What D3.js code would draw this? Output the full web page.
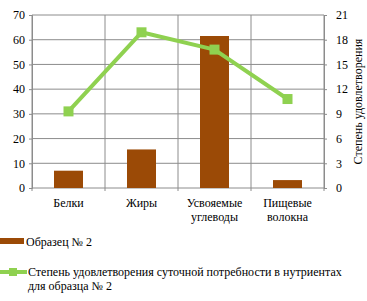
<!DOCTYPE html>
<html>
<head>
<meta charset="utf-8">
<script src="https://cdn.jsdelivr.net/npm/d3@7"></script>
<style>
  body { margin: 0; background: #fff; }
</style>
</head>
<body>
<svg id="chart" width="367" height="301"></svg>
<script>
// Data
var categories = ["Белки", "Жиры", "Усвояемые|углеводы", "Пищевые|волокна"]
var sampleValues = [7.0, 15.6, 61.5, 3.2]
var satisfaction = [9.3, 18.9, 16.8, 10.8]
var leftTicks = [0, 10, 20, 30, 40, 50, 60, 70]
var rightTicks = [0, 3, 6, 9, 12, 15, 18, 21]
var barName = "Образец № 2"
var lineName = ["Степень удовлетворения суточной потребности в нутриентах", "для образца № 2"]
var rightTitle = "Степень удовлетворения"

const barColor = "#9b4a06"
const lineColor = "#8fd150"
const gridColor = "#8c8c8c"
const serif = "Liberation Serif"

const margin = { top: 15, left: 32, right: 43, bottom: 113 }
const width = 367 - margin.left - margin.right
const height = 301 - margin.top - margin.bottom

const svg = d3.select("#chart")
const g = svg.append("g").attr("transform", `translate(${margin.left},${margin.top})`)

// Scales
const x = d3.scaleBand().domain(categories).range([0, width])
const yL = d3.scaleLinear().domain([0, 70]).range([height, 0])
const yR = d3.scaleLinear().domain([0, 21]).range([height, 0])

// Horizontal grid
g.selectAll(".hgrid").data(leftTicks).enter().append("line")
  .attr("x1", 0).attr("x2", width)
  .attr("y1", d => yL(d)).attr("y2", d => yL(d))
  .attr("stroke", gridColor).attr("stroke-width", 1)

// Vertical grid (band boundaries)
var bounds = categories.map(c => x(c)).concat([width])
g.selectAll(".vgrid").data(bounds).enter().append("line")
  .attr("x1", d => d).attr("x2", d => d)
  .attr("y1", 0).attr("y2", height)
  .attr("stroke", gridColor).attr("stroke-width", 1)

// Left axis
const axL = g.append("g")
  .call(d3.axisLeft(yL).tickValues(leftTicks).tickSize(3).tickPadding(4))
axL.attr("font-family", serif).attr("font-size", 12)
axL.select(".domain").attr("stroke", gridColor)
axL.selectAll(".tick line").attr("stroke", gridColor)

// Right axis
const axR = g.append("g").attr("transform", `translate(${width},0)`)
  .call(d3.axisRight(yR).tickValues(rightTicks).tickSize(3).tickPadding(9))
axR.attr("font-family", serif).attr("font-size", 12)
axR.select(".domain").attr("stroke", gridColor)
axR.selectAll(".tick line").attr("stroke", gridColor)

// Bottom axis ticks
g.selectAll(".btick").data(bounds).enter().append("line")
  .attr("x1", d => d).attr("x2", d => d)
  .attr("y1", height).attr("y2", height + 3)
  .attr("stroke", gridColor)

// Bars
const barW = 29
g.selectAll(".bar").data(sampleValues).enter().append("rect")
  .attr("x", (d, i) => x(categories[i]) + x.bandwidth() / 2 - barW / 2)
  .attr("y", d => yL(d))
  .attr("width", barW)
  .attr("height", d => height - yL(d))
  .attr("fill", barColor)

// Line
const line = d3.line()
  .x((d, i) => x(categories[i]) + x.bandwidth() / 2)
  .y(d => yR(d))
g.append("path").datum(satisfaction)
  .attr("d", line)
  .attr("fill", "none")
  .attr("stroke", lineColor)
  .attr("stroke-width", 4)
  .attr("stroke-linejoin", "round")
g.selectAll(".pt").data(satisfaction).enter().append("rect")
  .attr("x", (d, i) => x(categories[i]) + x.bandwidth() / 2 - 5)
  .attr("y", d => yR(d) - 5)
  .attr("width", 10).attr("height", 10)
  .attr("fill", lineColor)

// Category labels
categories.forEach(function (c, i) {
  var parts = c.split("|")
  var t = g.append("text")
    .attr("x", x(c) + x.bandwidth() / 2)
    .attr("y", height + 19)
    .attr("text-anchor", "middle")
    .attr("font-family", serif)
    .attr("font-size", 12)
  parts.forEach(function (p, j) {
    t.append("tspan").attr("x", x(c) + x.bandwidth() / 2).attr("dy", j == 0 ? 0 : 14).text(p)
  })
})

// Right axis title
svg.append("text")
  .attr("transform", `translate(362,${margin.top + height / 2}) rotate(-90)`)
  .attr("text-anchor", "middle")
  .attr("font-family", serif)
  .attr("font-size", 12)
  .text(rightTitle)

// Legend
svg.append("rect").attr("x", 0).attr("y", 238).attr("width", 24).attr("height", 6).attr("fill", barColor)
svg.append("text").attr("x", 26).attr("y", 246).attr("font-family", serif).attr("font-size", 12).text(barName)

svg.append("line").attr("x1", 0).attr("x2", 27).attr("y1", 272).attr("y2", 272)
  .attr("stroke", lineColor).attr("stroke-width", 4)
svg.append("rect").attr("x", 9).attr("y", 268).attr("width", 8).attr("height", 8).attr("fill", lineColor)
const lt = svg.append("text").attr("x", 28).attr("y", 276).attr("font-family", serif).attr("font-size", 12)
lineName.forEach(function (p, j) {
  lt.append("tspan").attr("x", 28).attr("dy", j == 0 ? 0 : 14).text(p)
})
</script>
</body>
</html>
